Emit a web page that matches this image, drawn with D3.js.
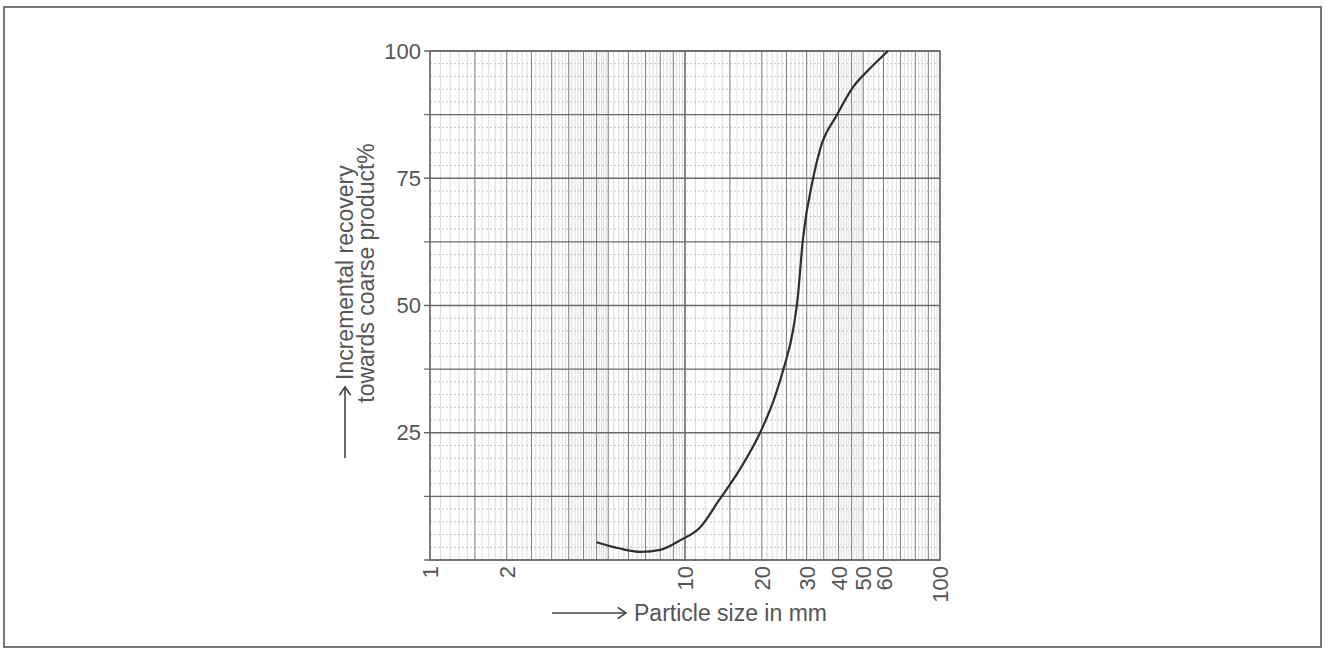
<!DOCTYPE html>
<html>
<head>
<meta charset="utf-8">
<script src="https://cdn.jsdelivr.net/npm/d3@7"></script>
<style>
  html, body { margin: 0; padding: 0; background: #fff; }
  svg { display: block; }
  text { font-family: "Liberation Sans", Arial, Helvetica, sans-serif; fill: #555; }
</style>
</head>
<body>
<svg id="chart" width="1325" height="651"></svg>
<script>
// Grade-efficiency curve: recovery to the coarse product by particle size
const sizeMm      = [4.5, 5.5, 6.7, 8.0, 9.6, 11.5, 13.5, 16.5, 19.7, 22.5, 24.5, 26.5, 27.6, 29.0, 31.8, 34.0, 39.4, 45.6, 53.0, 62.5];
const recoveryPct = [3.5, 2.3, 1.6, 2.0, 3.9, 6.5, 11.5, 18.0, 25.0, 32.0, 38.0, 45.0, 51.0, 63.0, 75.0, 81.0, 87.4, 92.9, 96.5, 100.0];

const xTickValues = [1, 2, 10, 20, 30, 40, 50, 60, 100];
const yTickValues = [25, 50, 75, 100];
// log-paper rulings inside each decade
const xMajorSteps = [1, 1.5, 2, 2.5, 3, 3.5, 4, 4.5, 5, 6, 7, 8, 9];

const svg = d3.select("#chart");

// page frame
svg.append("rect")
  .attr("x", 4).attr("y", 7).attr("width", 1317).attr("height", 640)
  .attr("fill", "none").attr("stroke", "#777").attr("stroke-width", 2);

const x = d3.scaleLog().domain([1, 100]).range([430, 940]);
const y = d3.scaleLinear().domain([0, 100]).range([560, 51]);

const grid = svg.append("g");

// vertical rulings
const xMinor = [], xMajor = [];
[1, 10].forEach(dec => {
  xMajorSteps.forEach(s => xMajor.push(s * dec));
  for (let v = 1; v < 5; v += 0.1) {
    const r = Math.round(v * 10) / 10;
    if (!xMajorSteps.includes(r)) xMinor.push(r * dec);
  }
  for (let v = 5; v < 10; v += 0.25) {
    const r = Math.round(v * 100) / 100;
    if (!xMajorSteps.includes(r)) xMinor.push(r * dec);
  }
});
xMajor.push(100);

grid.selectAll(".vmin").data(xMinor).join("line")
  .attr("x1", d => x(d)).attr("x2", d => x(d))
  .attr("y1", y(0)).attr("y2", y(100))
  .attr("stroke", "#d4d4d4").attr("stroke-width", 0.8);

// horizontal minor rulings every 2.5 %
const yMinor = d3.range(0, 100.01, 2.5).filter(v => v % 12.5 !== 0);
grid.selectAll(".hmin").data(yMinor).join("line")
  .attr("x1", x(1)).attr("x2", x(100))
  .attr("y1", d => y(d)).attr("y2", d => y(d))
  .attr("stroke", "#bdbdbd").attr("stroke-width", 0.9)
  .attr("stroke-dasharray", "2,2");

grid.selectAll(".vmaj").data(xMajor).join("line")
  .attr("x1", d => x(d)).attr("x2", d => x(d))
  .attr("y1", y(0)).attr("y2", y(100))
  .attr("stroke", d => (d === 10 ? "#555" : "#858585"))
  .attr("stroke-width", d => (d === 10 ? 1.4 : 1.1));

// horizontal major rulings every 12.5 %
const yMajor = d3.range(0, 100.01, 12.5);
grid.selectAll(".hmaj").data(yMajor).join("line")
  .attr("x1", x(1) - 6).attr("x2", x(100))
  .attr("y1", d => y(d)).attr("y2", d => y(d))
  .attr("stroke", "#6a6a6a").attr("stroke-width", 1.3);

// plot border
svg.append("rect")
  .attr("x", x(1)).attr("y", y(100))
  .attr("width", x(100) - x(1)).attr("height", y(0) - y(100))
  .attr("fill", "none").attr("stroke", "#666").attr("stroke-width", 1.4);

// y axis labels
const yAxis = d3.axisLeft(y).tickValues(yTickValues).tickSize(0).tickPadding(9);
const gy = svg.append("g").attr("transform", `translate(${x(1)},0)`).call(yAxis);
gy.select(".domain").remove();
gy.selectAll("text").style("font-size", "22px").attr("fill", "#555");

// x axis labels, rotated
const xAxis = d3.axisBottom(x).tickValues(xTickValues).tickSize(0).tickFormat(d3.format("d"));
const gx = svg.append("g").attr("transform", `translate(0,${y(0)})`).call(xAxis);
gx.select(".domain").remove();
gx.selectAll("text")
  .style("font-size", "22px").attr("fill", "#555")
  .attr("text-anchor", "end")
  .attr("transform", "translate(0,6) rotate(-90)")
  .attr("x", 0).attr("y", 0).attr("dy", "0.35em");

// curve
const line = d3.line()
  .x((d, i) => x(sizeMm[i]))
  .y(d => y(d))
  .curve(d3.curveMonotoneX);
svg.append("path")
  .datum(recoveryPct)
  .attr("d", line)
  .attr("fill", "none")
  .attr("stroke", "#2e2e2e")
  .attr("stroke-width", 2.2);

// arrow helper
function arrow(x1, y1, x2, y2) {
  const g = svg.append("g").attr("stroke", "#444").attr("stroke-width", 1.6).attr("fill", "none");
  g.append("line").attr("x1", x1).attr("y1", y1).attr("x2", x2).attr("y2", y2);
  const a = Math.atan2(y2 - y1, x2 - x1), L = 10, w = 0.6;
  g.append("path").attr("d",
    `M${x2 - L * Math.cos(a - w)},${y2 - L * Math.sin(a - w)}L${x2},${y2}L${x2 - L * Math.cos(a + w)},${y2 - L * Math.sin(a + w)}`);
}

// axis titles
arrow(552, 613, 626, 613);
svg.append("text")
  .attr("x", 634).attr("y", 613).attr("dy", "0.35em")
  .style("font-size", "23px")
  .text("Particle size in mm");

arrow(345, 458, 345, 387);
svg.append("text")
  .attr("transform", "translate(353,380) rotate(-90)")
  .style("font-size", "23px")
  .text("Incremental recovery");
svg.append("text")
  .attr("transform", "translate(374,273) rotate(-90)")
  .attr("text-anchor", "middle")
  .style("font-size", "23px")
  .text("towards coarse product%");
</script>
</body>
</html>
